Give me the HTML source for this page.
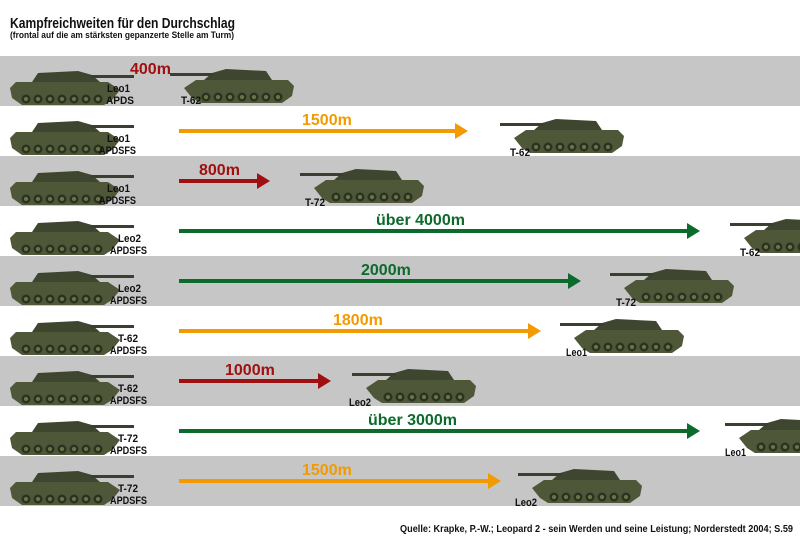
<!DOCTYPE html>
<html><head><meta charset="utf-8"><style>
html,body{margin:0;padding:0;background:#fff}
svg{display:block}
text{font-family:"Liberation Sans",sans-serif}
</style></head><body>
<svg width="800" height="550" viewBox="0 0 800 550" xmlns="http://www.w3.org/2000/svg">
<defs>
<g id="tk">
  <polygon points="24,22 30,13 70,11 84,15 92,22" fill="#3f4630"/>
  <rect x="82" y="15" width="44" height="3" fill="#3a4030"/>
  <polygon points="2,28 8,22 100,22 112,30 104,40 96,45 14,45 4,38" fill="#4e5738"/>
  <g fill="#2c3222">
    <circle cx="18" cy="39" r="4.5"/><circle cx="30" cy="39" r="4.5"/><circle cx="42" cy="39" r="4.5"/>
    <circle cx="54" cy="39" r="4.5"/><circle cx="66" cy="39" r="4.5"/><circle cx="78" cy="39" r="4.5"/><circle cx="90" cy="39" r="4.5"/>
  </g>
  <g fill="#6a7548"><circle cx="18" cy="39" r="2"/><circle cx="30" cy="39" r="2"/><circle cx="42" cy="39" r="2"/><circle cx="54" cy="39" r="2"/><circle cx="66" cy="39" r="2"/><circle cx="78" cy="39" r="2"/><circle cx="90" cy="39" r="2"/></g>
</g>
</defs>
<rect x="0" y="56" width="800" height="50" fill="#c6c6c6"/>
<rect x="0" y="156" width="800" height="50" fill="#c6c6c6"/>
<rect x="0" y="256" width="800" height="50" fill="#c6c6c6"/>
<rect x="0" y="356" width="800" height="50" fill="#c6c6c6"/>
<rect x="0" y="456" width="800" height="50" fill="#c6c6c6"/>

<text x="10" y="28" font-size="15" font-weight="bold" fill="#111" textLength="225" lengthAdjust="spacingAndGlyphs">Kampfreichweiten für den Durchschlag</text>
<text x="10" y="38" font-size="9" font-weight="bold" fill="#111" textLength="224" lengthAdjust="spacingAndGlyphs">(frontal auf die am stärksten gepanzerte Stelle am Turm)</text>

<g>
<use href="#tk" transform="translate(8,60)"/><use href="#tk" transform="translate(8,110)"/><use href="#tk" transform="translate(8,160)"/>
<use href="#tk" transform="translate(8,210)"/><use href="#tk" transform="translate(8,260)"/><use href="#tk" transform="translate(8,310)"/>
<use href="#tk" transform="translate(8,360)"/><use href="#tk" transform="translate(8,410)"/><use href="#tk" transform="translate(8,460)"/>
</g>
<use href="#tk" transform="translate(296,58) scale(-1,1)"/>
<use href="#tk" transform="translate(626,108) scale(-1,1)"/>
<use href="#tk" transform="translate(426,158) scale(-1,1)"/>
<use href="#tk" transform="translate(856,208) scale(-1,1)"/>
<use href="#tk" transform="translate(736,258) scale(-1,1)"/>
<use href="#tk" transform="translate(686,308) scale(-1,1)"/>
<use href="#tk" transform="translate(478,358) scale(-1,1)"/>
<use href="#tk" transform="translate(851,408) scale(-1,1)"/>
<use href="#tk" transform="translate(644,458) scale(-1,1)"/>

<g font-size="11" font-weight="bold" fill="#111" lengthAdjust="spacingAndGlyphs">
<text x="107" y="92" textLength="23" lengthAdjust="spacingAndGlyphs">Leo1</text><text x="106" y="104" textLength="28" lengthAdjust="spacingAndGlyphs">APDS</text>
<text x="107" y="142" textLength="23" lengthAdjust="spacingAndGlyphs">Leo1</text><text x="99" y="154" textLength="37" lengthAdjust="spacingAndGlyphs">APDSFS</text>
<text x="107" y="192" textLength="23" lengthAdjust="spacingAndGlyphs">Leo1</text><text x="99" y="204" textLength="37" lengthAdjust="spacingAndGlyphs">APDSFS</text>
<text x="118" y="242" textLength="23" lengthAdjust="spacingAndGlyphs">Leo2</text><text x="110" y="254" textLength="37" lengthAdjust="spacingAndGlyphs">APDSFS</text>
<text x="118" y="292" textLength="23" lengthAdjust="spacingAndGlyphs">Leo2</text><text x="110" y="304" textLength="37" lengthAdjust="spacingAndGlyphs">APDSFS</text>
<text x="118" y="342" textLength="20" lengthAdjust="spacingAndGlyphs">T-62</text><text x="110" y="354" textLength="37" lengthAdjust="spacingAndGlyphs">APDSFS</text>
<text x="118" y="392" textLength="20" lengthAdjust="spacingAndGlyphs">T-62</text><text x="110" y="404" textLength="37" lengthAdjust="spacingAndGlyphs">APDSFS</text>
<text x="118" y="442" textLength="20" lengthAdjust="spacingAndGlyphs">T-72</text><text x="110" y="454" textLength="37" lengthAdjust="spacingAndGlyphs">APDSFS</text>
<text x="118" y="492" textLength="20" lengthAdjust="spacingAndGlyphs">T-72</text><text x="110" y="504" textLength="37" lengthAdjust="spacingAndGlyphs">APDSFS</text>
<text x="181" y="104" textLength="20" lengthAdjust="spacingAndGlyphs">T-62</text>
<text x="510" y="156" textLength="20" lengthAdjust="spacingAndGlyphs">T-62</text>
<text x="305" y="206" textLength="20" lengthAdjust="spacingAndGlyphs">T-72</text>
<text x="740" y="256" textLength="20" lengthAdjust="spacingAndGlyphs">T-62</text>
<text x="616" y="306" textLength="20" lengthAdjust="spacingAndGlyphs">T-72</text>
<text x="566" y="356" textLength="21" lengthAdjust="spacingAndGlyphs">Leo1</text>
<text x="349" y="406" textLength="22" lengthAdjust="spacingAndGlyphs">Leo2</text>
<text x="725" y="456" textLength="21" lengthAdjust="spacingAndGlyphs">Leo1</text>
<text x="515" y="506" textLength="22" lengthAdjust="spacingAndGlyphs">Leo2</text>
</g>

<g>
<rect x="179" y="129" width="278" height="4" fill="#f39a00"/><polygon points="455,123 468,131 455,139" fill="#f39a00"/>
<rect x="179" y="179" width="80" height="4" fill="#a01010"/><polygon points="257,173 270,181 257,189" fill="#a01010"/>
<rect x="179" y="229" width="510" height="4" fill="#0b6a2c"/><polygon points="687,223 700,231 687,239" fill="#0b6a2c"/>
<rect x="179" y="279" width="390" height="4" fill="#0b6a2c"/><polygon points="568,273 581,281 568,289" fill="#0b6a2c"/>
<rect x="179" y="329" width="350" height="4" fill="#f39a00"/><polygon points="528,323 541,331 528,339" fill="#f39a00"/>
<rect x="179" y="379" width="140" height="4" fill="#a01010"/><polygon points="318,373 331,381 318,389" fill="#a01010"/>
<rect x="179" y="429" width="510" height="4" fill="#0b6a2c"/><polygon points="687,423 700,431 687,439" fill="#0b6a2c"/>
<rect x="179" y="479" width="310" height="4" fill="#f39a00"/><polygon points="488,473 501,481 488,489" fill="#f39a00"/>
</g>
<g font-size="16" font-weight="bold">
<text x="130" y="74" fill="#a01010">400m</text>
<text x="302" y="125" fill="#f39a00">1500m</text>
<text x="199" y="175" fill="#a01010">800m</text>
<text x="376" y="225" fill="#0b6a2c">über 4000m</text>
<text x="361" y="275" fill="#0b6a2c">2000m</text>
<text x="333" y="325" fill="#f39a00">1800m</text>
<text x="225" y="375" fill="#a01010">1000m</text>
<text x="368" y="425" fill="#0b6a2c">über 3000m</text>
<text x="302" y="475" fill="#f39a00">1500m</text>
</g>
<text x="793" y="532" font-size="10" font-weight="bold" fill="#111" text-anchor="end" textLength="393" lengthAdjust="spacingAndGlyphs">Quelle: Krapke, P.-W.; Leopard 2 - sein Werden und seine Leistung; Norderstedt 2004; S.59</text>
</svg>
</body></html>
